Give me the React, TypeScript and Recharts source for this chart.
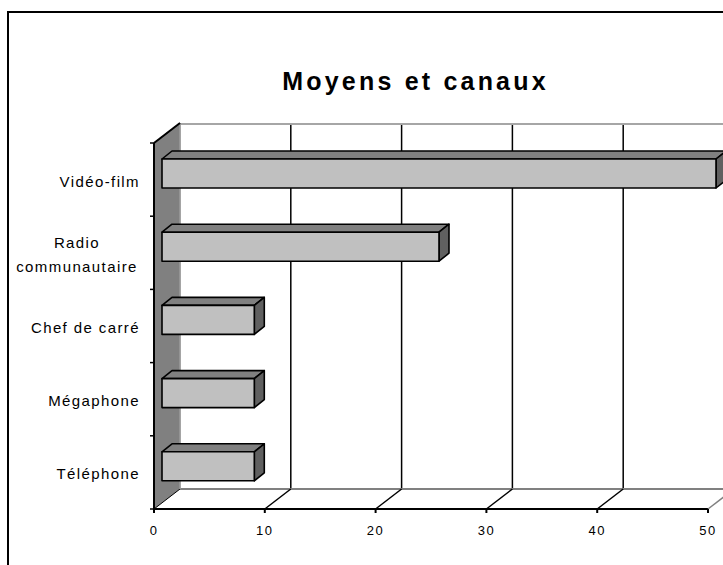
import React from "react";
import { BarChart, Bar, XAxis, YAxis, CartesianGrid, Customized } from "recharts";

const categories = ["Vidéo-film", "Radio communautaire", "Chef de carré", "Mégaphone", "Téléphone"];
const shares = [50, 25, 8.33, 8.33, 8.33];
const xTicks = [0, 10, 20, 30, 40, 50];

const data = categories.map((name, i) => ({ name, value: shares[i] }));

// layout of the "3d" box (front plane = recharts plot area)
const W = 723;
const H = 565;
const PLOT = { left: 154, top: 143, right: 708, bottom: 509 };
const DEPTH_X = 26;
const DEPTH_Y = 20;
const BAR_DX = 8;
const BAR_DY = 6;
const BAR_DEPTH_X = 10;
const BAR_DEPTH_Y = 8;
const FONT = "'Liberation Sans', Arial, sans-serif";

function Walls() {
  const { left, top, bottom } = PLOT;
  return (
    <g>
      {/* back wall top edge + floor back edge */}
      <line x1={left + DEPTH_X} y1={top - DEPTH_Y + 1} x2={W} y2={top - DEPTH_Y + 1} stroke="#a6a6a6" strokeWidth={2} />
      <line x1={left + DEPTH_X} y1={bottom - DEPTH_Y} x2={W} y2={bottom - DEPTH_Y} stroke="#808080" strokeWidth={2} />
      {/* left wall */}
      <polygon
        points={`${left},${top} ${left + DEPTH_X},${top - DEPTH_Y} ${left + DEPTH_X},${bottom - DEPTH_Y} ${left},${bottom}`}
        fill="#808080"
        stroke="#000"
        strokeWidth={1}
      />
      <line x1={left + DEPTH_X} y1={top - DEPTH_Y} x2={left + DEPTH_X} y2={bottom - DEPTH_Y} stroke="#b0b0b0" strokeWidth={1.5} />
      <line x1={left} y1={top} x2={left + DEPTH_X} y2={top - DEPTH_Y} stroke="#000" strokeWidth={2} />
    </g>
  );
}

function backGridLine(props: any) {
  const { x1, y1, y2 } = props;
  if (x1 <= PLOT.left + 1) return <g key={props.key} />;
  return (
    <line
      key={props.key}
      x1={x1 + DEPTH_X}
      x2={x1 + DEPTH_X}
      y1={y1 - DEPTH_Y}
      y2={y2 - DEPTH_Y}
      stroke="#000"
      strokeWidth={1.5}
    />
  );
}

function XTick(props: any) {
  const { x, payload, index } = props;
  const last = index === xTicks.length - 1;
  return (
    <g>
      {index > 0 && (
        <line
          x1={x}
          y1={PLOT.bottom}
          x2={x + DEPTH_X}
          y2={PLOT.bottom - DEPTH_Y}
          stroke={last ? "#808080" : "#000"}
          strokeWidth={1.5}
        />
      )}
      <line x1={x} y1={PLOT.bottom} x2={x} y2={PLOT.bottom + 4} stroke="#000" strokeWidth={2} />
      <text x={x} y={535} textAnchor="middle" fontSize={13} letterSpacing={1.5} fontFamily={FONT} fill="#000">
        {payload.value}
      </text>
    </g>
  );
}

function YTick(props: any) {
  const { y, payload, index } = props;
  const band = (PLOT.bottom - PLOT.top) / categories.length;
  const words = String(payload.value).split(" ");
  const lines = words.length === 2 && words[1].length > 8 ? words : [payload.value];
  const cy = y + 1.5;
  return (
    <g>
      <line x1={PLOT.left - 4} x2={PLOT.left} y1={y - band / 2} y2={y - band / 2} stroke="#000" strokeWidth={1.5} />
      {index === categories.length - 1 && (
        <line x1={PLOT.left - 4} x2={PLOT.left} y1={y + band / 2} y2={y + band / 2} stroke="#000" strokeWidth={1.5} />
      )}
      {lines.length === 1 ? (
        <text x={140} y={cy} dy="0.36em" textAnchor="end" fontSize={15} letterSpacing={1.4} fontFamily={FONT} fill="#000">
          {lines[0]}
        </text>
      ) : (
        lines.map((l, i) => (
          <text
            key={l}
            x={77}
            y={cy + (i - 0.5) * 24}
            dy="0.36em"
            textAnchor="middle"
            fontSize={15}
            letterSpacing={1.4}
            fontFamily={FONT}
            fill="#000"
          >
            {l}
          </text>
        ))
      )}
    </g>
  );
}

function Bar3D(props: any) {
  const { x, y, width, height } = props;
  const fx = x + BAR_DX;
  const fy = y - BAR_DY;
  const r = fx + width;
  const b = fy + height;
  return (
    <g stroke="#000" strokeWidth={1.6} strokeLinejoin="round">
      <polygon
        points={`${fx},${fy} ${fx + BAR_DEPTH_X},${fy - BAR_DEPTH_Y} ${r + BAR_DEPTH_X},${fy - BAR_DEPTH_Y} ${r},${fy}`}
        fill="#808080"
      />
      <polygon
        points={`${r},${fy} ${r + BAR_DEPTH_X},${fy - BAR_DEPTH_Y} ${r + BAR_DEPTH_X},${b - BAR_DEPTH_Y} ${r},${b}`}
        fill="#606060"
      />
      <rect x={fx} y={fy} width={width} height={height} fill="#c0c0c0" />
    </g>
  );
}

export default function App() {
  return (
    <div style={{ position: "absolute", left: 0, top: 0, width: W, height: H, overflow: "hidden", background: "#fff" }}>
      <div
        style={{
          position: "absolute",
          left: 7,
          top: 11,
          width: 800,
          height: 600,
          border: "2px solid #000",
        }}
      />
      <div
        style={{
          position: "absolute",
          left: 0,
          top: 64,
          width: 831,
          textAlign: "center",
          fontFamily: FONT,
          fontWeight: "bold",
          fontSize: 25,
          letterSpacing: 3.2,
          lineHeight: "34px",
        }}
      >
        Moyens et canaux
      </div>
      <div style={{ position: "absolute", left: 0, top: 0 }}>
        <BarChart
          width={W}
          height={H}
          data={data}
          layout="vertical"
          margin={{ top: PLOT.top, right: W - PLOT.right, left: 8, bottom: H - PLOT.bottom - 30 }}
        >
          <Customized component={<Walls />} />
          <CartesianGrid horizontal={false} vertical={backGridLine} />
          <XAxis
            type="number"
            domain={[0, 50]}
            ticks={xTicks}
            interval={0}
            height={30}
            axisLine={{ stroke: "#000", strokeWidth: 2 }}
            tickLine={false}
            tick={<XTick />}
          />
          <YAxis
            type="category"
            dataKey="name"
            width={PLOT.left - 8}
            axisLine={{ stroke: "#000", strokeWidth: 2 }}
            tickLine={false}
            tick={<YTick />}
            interval={0}
          />
          <Bar dataKey="value" barSize={29} shape={<Bar3D />} isAnimationActive={false} />
        </BarChart>
      </div>
    </div>
  );
}
